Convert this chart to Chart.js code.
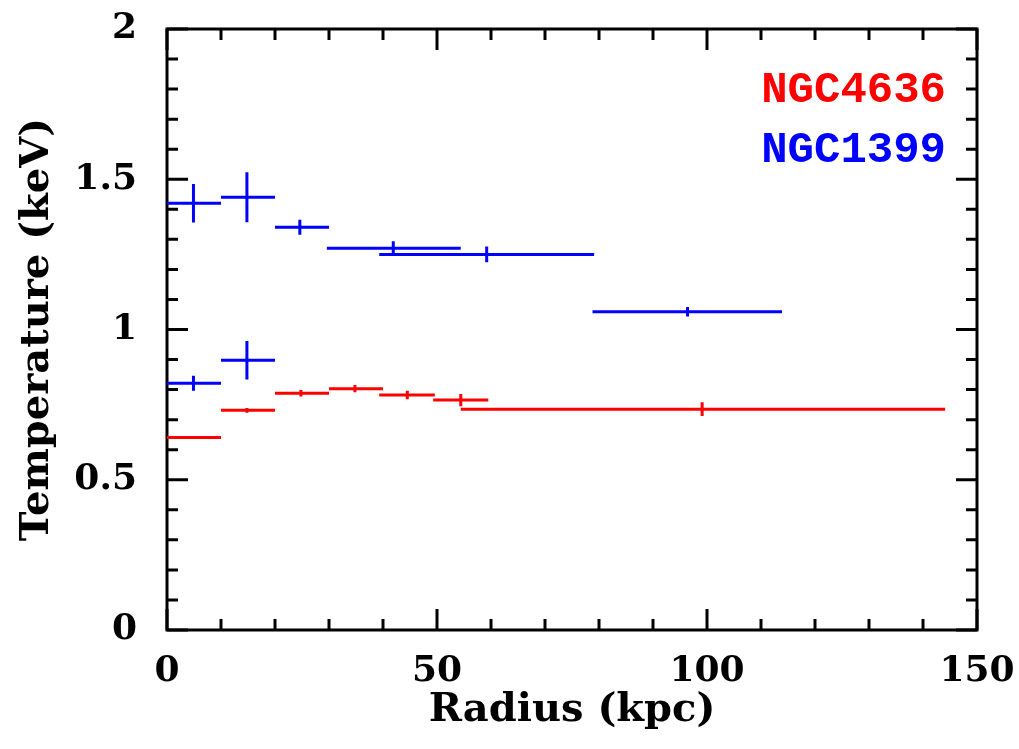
<!DOCTYPE html>
<html lang="en">

<head>
    <meta charset="UTF-8">
    <title>Temperature profiles</title>
    <script src="https://cdn.jsdelivr.net/npm/chart.js@4.4.0/dist/chart.umd.min.js"></script>
    <style>
        body { margin: 0; background: #fff; }
    </style>
</head>

<body>
    <canvas id="myChart" width="1019" height="749"></canvas>

<script>
    // NGC4636 (red): bin centre, bin edges, temperature and its error
    const redR = [4.9, 14.8, 24.8, 34.8, 44.5, 54.4, 99.1];
    const redLo = [0, 10, 20, 30, 39.3, 49.3, 54.4];
    const redHi = [10, 20, 30, 40, 49.6, 59.5, 144.1];
    const redT = [0.641, 0.731, 0.788, 0.803, 0.782, 0.765, 0.735];
    const redErr = [0.005, 0.008, 0.011, 0.012, 0.014, 0.02, 0.023];

    // NGC1399 (blue)
    const blueR = [4.9, 14.8, 24.6, 41.9, 59.2, 96.4, 4.9, 14.8];
    const blueLo = [0, 10, 20, 29.6, 39.3, 78.8, 0, 10];
    const blueHi = [10, 20, 30, 54.4, 79.1, 113.9, 10, 20];
    const blueT = [1.42, 1.44, 1.34, 1.27, 1.25, 1.059, 0.821, 0.898];
    const blueErr = [0.064, 0.083, 0.025, 0.024, 0.026, 0.016, 0.025, 0.064];

    const xTicks = [0, 50, 100, 150];
    const yTicks = [0, 0.5, 1, 1.5, 2];
    const legendNames = ['NGC4636', 'NGC1399'];

    // turn each point into a horizontal bar + vertical bar, broken by null gaps
    function crosses(r, lo, hi, t, e) {
        const pts = [];
        for (let i = 0; i < r.length; i++) {
            pts.push({ x: lo[i], y: t[i] }, { x: hi[i], y: t[i] }, { x: hi[i], y: null });
            pts.push({ x: r[i], y: t[i] - e[i] }, { x: r[i], y: t[i] + e[i] }, { x: r[i], y: null });
        }
        return pts;
    }

    // box round the plot with inward ticks on all four sides
    const frame = {
        id: 'frame',
        beforeDatasetsDraw(chart) {
            const { ctx, chartArea: a, scales: { x, y } } = chart;
            ctx.save();
            ctx.strokeStyle = '#000';
            ctx.lineWidth = 3;
            ctx.strokeRect(a.left, a.top, a.right - a.left, a.bottom - a.top);
            ctx.beginPath();
            for (let v = 0; v <= 150; v += 10) {
                const px = x.getPixelForValue(v);
                const len = v % 50 === 0 ? 21 : 11;
                ctx.moveTo(px, a.bottom); ctx.lineTo(px, a.bottom - len);
                ctx.moveTo(px, a.top); ctx.lineTo(px, a.top + len);
            }
            for (let i = 0; i <= 20; i++) {
                const py = y.getPixelForValue(i / 10);
                const len = i % 5 === 0 ? 21 : 11;
                ctx.moveTo(a.left, py); ctx.lineTo(a.left + len, py);
                ctx.moveTo(a.right, py); ctx.lineTo(a.right - len, py);
            }
            ctx.stroke();
            ctx.restore();
        },
        afterDraw(chart) {
            const { ctx } = chart;
            ctx.save();
            ctx.font = 'bold 44px "Liberation Mono"';
            ctx.textAlign = 'right';
            ctx.textBaseline = 'middle';
            chart.data.datasets.forEach((ds, i) => {
                ctx.fillStyle = ds.borderColor;
                ctx.fillText(legendNames[i], 946, 91 + i * 60);
            });
            ctx.restore();
        }
    };

    // no extra room for overhanging labels, the layout padding decides the plot box
    function noPad(s) {
        s.paddingTop = 0; s.paddingBottom = 0; s.paddingLeft = 0; s.paddingRight = 0;
    }

    const tickFont = { family: 'DejaVu Serif', size: 36, weight: 'bold' };
    const titleFont = { family: 'DejaVu Serif', size: 40, weight: 'bold' };

    const ctx = document.getElementById('myChart').getContext('2d');
    const myChart = new Chart(ctx, {
        type: 'line',
        data: {
            datasets: [{
                label: legendNames[0],
                data: crosses(redR, redLo, redHi, redT, redErr),
                borderColor: '#ff0000',
                borderWidth: 3,
                pointRadius: 0,
                spanGaps: false
            }, {
                label: legendNames[1],
                data: crosses(blueR, blueLo, blueHi, blueT, blueErr),
                borderColor: '#0000ff',
                borderWidth: 3,
                pointRadius: 0,
                spanGaps: false
            }]
        },
        options: {
            responsive: false,
            animation: false,
            layout: { padding: { top: 29, right: 42, left: 0, bottom: 0 } },
            plugins: { legend: { display: false }, tooltip: { enabled: false } },
            scales: {
                x: {
                    type: 'linear',
                    min: 0,
                    max: 150,
                    afterBuildTicks: (s) => { s.ticks = xTicks.map(v => ({ value: v })); },
                    afterFit: (s) => { s.height = 119; noPad(s); },
                    grid: { display: false, drawTicks: false },
                    border: { display: false },
                    ticks: { color: '#000', font: tickFont, padding: 20, maxRotation: 0 },
                    title: { display: true, text: 'Radius (kpc)', color: '#000', font: titleFont, padding: { top: 0, bottom: 14 } }
                },
                y: {
                    type: 'linear',
                    min: 0,
                    max: 2,
                    afterBuildTicks: (s) => { s.ticks = yTicks.map(v => ({ value: v })); },
                    afterFit: (s) => { s.width = 167; noPad(s); },
                    grid: { display: false, drawTicks: false },
                    border: { display: false },
                    ticks: { color: '#000', font: tickFont, padding: 30, callback: (v) => String(v) },
                    title: { display: true, text: 'Temperature (keV)', color: '#000', font: titleFont, padding: { top: 14, bottom: 0 } }
                }
            }
        },
        plugins: [frame]
    });
</script>
</body>

</html>
